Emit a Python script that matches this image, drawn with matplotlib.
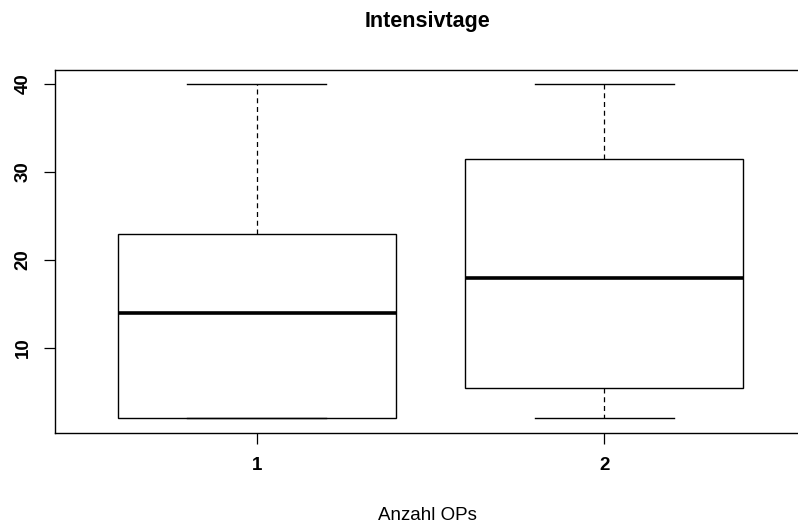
import matplotlib
matplotlib.use("Agg")
import matplotlib.pyplot as plt

plt.rcParams['font.family'] = ['Liberation Sans', 'DejaVu Sans']

categories = ["1", "2"]
whislo = [2, 2]
q1 = [2, 5.5]
medians = [14, 18]
q3 = [23, 31.5]
whishi = [40, 40]
yticks = [10, 20, 30, 40]

fig = plt.figure(figsize=(7.98, 5.25), dpi=100)
ax = fig.add_axes([55/798, (525-433)/525, (806-55)/798, (433-70)/525])

stats = []
for i in range(len(categories)):
    stats.append(dict(label=categories[i], whislo=whislo[i], q1=q1[i], med=medians[i],
                      q3=q3[i], whishi=whishi[i], fliers=[]))

ax.bxp(stats, positions=[1, 2], widths=0.8, showfliers=False, patch_artist=True,
       capwidths=0.4,
       boxprops=dict(facecolor='white', edgecolor='black', linewidth=1.0),
       medianprops=dict(color='black', linewidth=2.6, solid_capstyle='butt'),
       whiskerprops=dict(color='black', linewidth=0.9, linestyle=(0, (4, 3))),
       capprops=dict(color='black', linewidth=1.0))

ax.set_xlim(0.42, 2.58)
ax.set_ylim(0.35, 41.6)
ax.set_yticks(yticks)
ax.set_yticklabels([str(v) for v in yticks], rotation=90, va='center', fontsize=13.5, fontweight='bold')
ax.set_xticks([1, 2])
ax.set_xticklabels(categories, fontsize=13.5, fontweight='bold')
ax.tick_params(axis='both', length=8, width=0.9, color='black')
ax.tick_params(axis='y', pad=9)
ax.tick_params(axis='x', pad=9)
for s in ax.spines.values():
    s.set_linewidth(1.0)

fig.text(0.5 * (55 + 806) / 798 - 0.004, 1 - 27/525, "Intensivtage", ha='center', va='baseline',
         fontsize=15.5, fontweight='bold')
fig.text(0.5 * (55 + 806) / 798 - 0.004, 1 - 520/525, "Anzahl OPs", ha='center', va='baseline',
         fontsize=13.5)

fig.savefig("out.png", dpi=100)
